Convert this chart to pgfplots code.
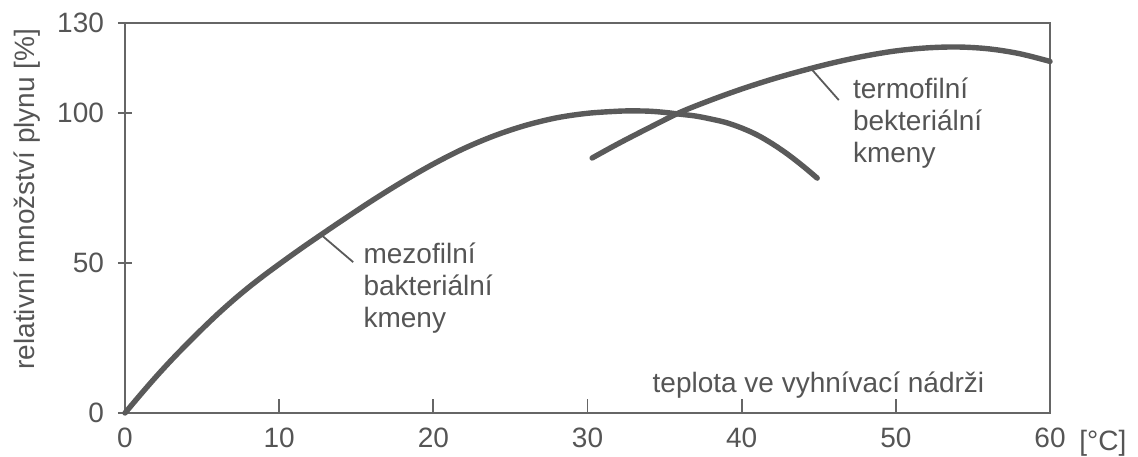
\documentclass[border=0pt]{standalone}
\usepackage{pgfplots}
\pgfplotsset{compat=1.18}
\usepackage{fontspec}
\setmainfont{Liberation Sans}
\definecolor{txt}{HTML}{555555}
\definecolor{crv}{HTML}{5A5A5A}
\definecolor{axc}{HTML}{666666}
\begin{document}
\begin{tikzpicture}[font=\fontsize{14}{16}\selectfont, text=txt]
\begin{axis}[name=ax, scale only axis, width=462.5pt, height=195pt,
  xmin=0, xmax=60, ymin=0, ymax=130,
  xtick={0,10,20,30,40,50,60}, ytick={0,50,100,130},
  xtick pos=bottom, ytick pos=left,
  xtick align=inside, ytick align=center,
  major tick length=7pt,
  axis line style={axc, line width=0.9pt},
  every tick/.style={axc, line width=0.9pt},
  clip=false,
  /pgf/number format/assume math mode=true,
  ticklabel style={font=\fontsize{14}{16}\selectfont, text=txt},
  xticklabel style={yshift=-4pt},
  yticklabel style={xshift=-3.5pt},
]
\addplot[crv, line width=2.7pt, line cap=round, smooth, tension=0.55] coordinates {
(0,0) (1,6.1) (2,12.0) (3,17.6) (4,22.9) (5,28.0) (6,32.9) (7,37.5) (8,41.8) (9,45.8)
(10,49.6) (11,53.3) (12,56.9) (14,63.9)
(16,70.7) (18,77.1) (20,83) (22,88.2) (24,92.5) (26,95.9) (28,98.4) (30,99.9)
(32,100.6) (33,100.7) (34,100.6) (35,100.2) (36,99.6) (37,99) (38,98) (39,96.8) (40,95)
(41,92.7) (42,89.7) (43,86.2) (44,82.2) (44.9,78.3)
};
\addplot[crv, line width=2.7pt, line cap=round, smooth, tension=0.55] coordinates {
(30.3,85) (32,89.8) (34,95.1) (36,100.2) (38,104.3) (40,108) (42,111.3) (44,114.2)
(46,116.8) (48,119) (50,120.7) (52,121.7) (54,122) (56,121.4) (58,119.8) (60,117.2)
};
\draw[crv, line width=0.9pt] (axis cs:12.7,59.5) -- (axis cs:14.8,50.3);
\draw[crv, line width=0.9pt] (axis cs:44.5,114.8) -- (axis cs:46.3,104.3);
\node[anchor=north west, inner sep=0, align=left, text=txt] at (axis cs:15.45,57)
  {mezofilní\\bakteriální\\kmeny};
\node[anchor=north west, inner sep=0, align=left, text=txt] at (axis cs:47.2,111.7)
  {termofilní\\bekteriální\\kmeny};
\node[anchor=base west, inner sep=0, text=txt] at (axis cs:34.2,7)
  {teplota ve vyhnívací nádrži};
\node[anchor=base west, inner sep=0, text=txt] at ([xshift=14.5pt, yshift=-18.5pt]axis cs:60,0) {[°C]};
\node[rotate=90, inner sep=0, text=txt] at (axis cs:-6.36,71.3) {relativní množství plynu [\%]};
\end{axis}
\pgfresetboundingbox
\path ([shift={(-62.5pt,-21.5pt)}]ax.south west) rectangle ([shift={(44pt,11.5pt)}]ax.north east);
\end{tikzpicture}
\end{document}
